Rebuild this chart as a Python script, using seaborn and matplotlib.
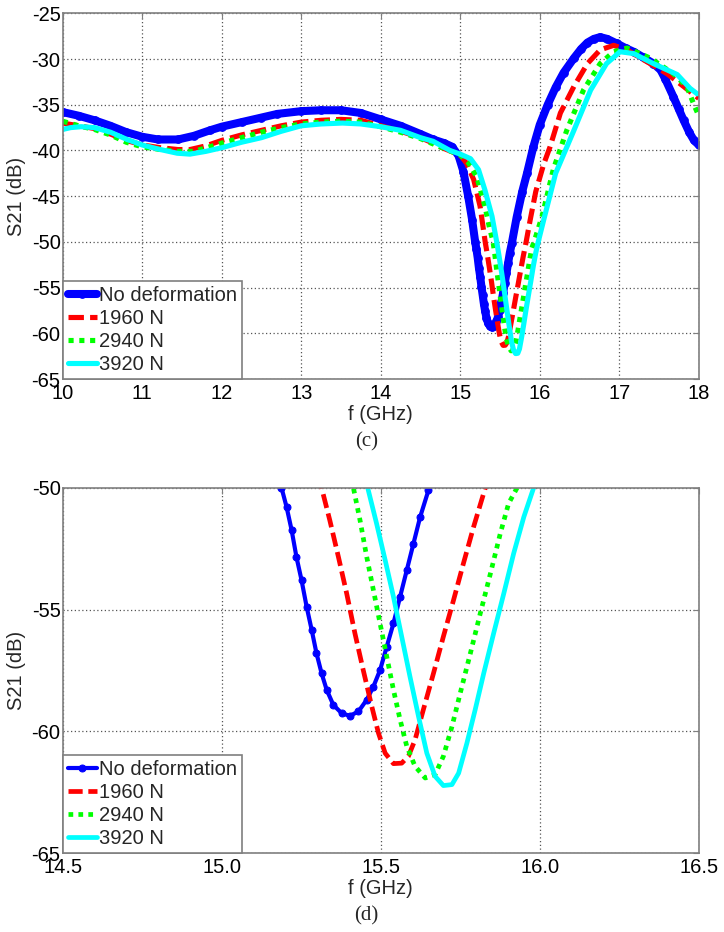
import numpy as np
import pandas as pd
import matplotlib
matplotlib.use("Agg")
import matplotlib.pyplot as plt
import seaborn as sns
from matplotlib.ticker import FormatStrFormatter

# S21 vs frequency (GHz, dB)
f_nodef = [10.0, 10.2, 10.4, 10.6, 10.8, 11.0, 11.2, 11.45, 11.65, 11.85, 12.0, 12.25,
           12.5, 12.7, 13.0, 13.25, 13.5, 13.75, 14.0, 14.25, 14.5, 14.66, 14.8, 14.9,
           14.98, 15.04, 15.1, 15.15, 15.188, 15.204, 15.22, 15.235, 15.251, 15.267,
           15.283, 15.298, 15.314, 15.33, 15.351, 15.377, 15.403, 15.43, 15.456, 15.477,
           15.498, 15.519, 15.54, 15.561, 15.582, 15.603, 15.624, 15.65, 15.71, 15.78,
           15.84, 15.92, 16.0, 16.1, 16.2, 16.3, 16.43, 16.52, 16.6, 16.68, 16.76, 16.85,
           16.97, 17.08, 17.18, 17.3, 17.43, 17.52, 17.58, 17.68, 17.75, 17.81, 17.88,
           17.94, 18.0]
s21_nodef = [-35.8, -36.2, -36.7, -37.3, -38.0, -38.5, -38.8, -38.8, -38.4, -37.8, -37.4, -36.9,
             -36.4, -36.0, -35.7, -35.6, -35.6, -35.9, -36.6, -37.3, -38.2, -38.8, -39.2, -39.6,
             -40.6, -42.3, -45.0, -47.6, -50.0, -50.79, -51.75, -52.84, -53.79, -54.88,
             -55.84, -56.79, -57.61, -58.29, -58.91, -59.25, -59.36, -59.18, -58.7, -58.16,
             -57.48, -56.52, -55.57, -54.47, -53.38, -52.29, -51.2, -50.11, -47.3, -44.5,
             -42.5, -39.6, -37.2, -35.0, -33.1, -31.5, -29.9, -28.9, -28.2, -27.8, -27.6, -27.8,
             -28.3, -28.8, -29.2, -29.8, -30.5, -31.2, -32.2, -34.1, -35.5, -36.7, -38.0,
             -38.9, -39.4]

f_1960 = [10.0, 10.2, 10.4, 10.6, 10.8, 11.0, 11.23, 11.45, 11.6, 11.8, 12.0, 12.25, 12.5,
          12.75, 13.0, 13.25, 13.5, 13.75, 14.0, 14.25, 14.5, 14.66, 14.8, 15.0, 15.08,
          15.17, 15.25, 15.314, 15.34, 15.367, 15.393, 15.419, 15.445, 15.472, 15.493,
          15.514, 15.54, 15.566, 15.587, 15.608, 15.634, 15.666, 15.697, 15.729, 15.76,
          15.792, 15.829, 15.88, 15.95, 16.05, 16.13, 16.26, 16.43, 16.6, 16.76, 16.93,
          17.1, 17.25, 17.39, 17.6, 17.81, 17.94, 18.0]
s21_1960 = [-37.0, -37.3, -37.6, -38.2, -38.9, -39.4, -39.7, -39.9, -39.9, -39.5, -38.9, -38.3,
            -37.8, -37.3, -36.9, -36.7, -36.6, -36.7, -37.3, -37.9, -38.6, -39.2, -39.8, -40.5,
            -41.4, -43.2, -46.1, -50.0, -51.34, -52.84, -54.34, -55.98, -57.48, -58.98, -60.07,
            -60.89, -61.32, -61.3, -61.02, -60.34, -59.11, -57.61, -56.11, -54.61, -53.11,
            -51.61, -50.0, -47.6, -44.5, -41.5, -39.6, -35.9, -33.0, -30.5, -29.0, -28.5,
            -29.0, -29.8, -30.5, -31.6, -33.0, -33.9, -34.3]

f_2940 = [10.0, 10.2, 10.4, 10.6, 10.8, 11.0, 11.23, 11.45, 11.65, 11.85, 12.0, 12.25, 12.5,
          12.75, 13.0, 13.25, 13.5, 13.75, 14.0, 14.25, 14.5, 14.8, 15.0, 15.1, 15.21, 15.31,
          15.37, 15.414, 15.435, 15.456, 15.477, 15.498, 15.519, 15.54, 15.561, 15.582,
          15.608, 15.64, 15.671, 15.697, 15.724, 15.75, 15.782, 15.813, 15.845, 15.876,
          15.902, 15.929, 16.03, 16.17, 16.34, 16.55, 16.76, 16.93, 17.1, 17.39, 17.68,
          17.85, 17.94, 18.0]
s21_2940 = [-36.8, -37.3, -37.7, -38.3, -39.1, -39.6, -39.9, -40.1, -40.1, -39.6, -39.2, -38.6,
            -38.0, -37.5, -37.1, -36.9, -36.8, -36.9, -37.4, -38.0, -38.7, -39.8, -40.5, -41.3,
            -42.9, -46.1, -48.5, -50.0, -51.34, -52.84, -54.2, -55.57, -56.93, -58.29, -59.52,
            -60.61, -61.43, -61.91, -61.77, -61.02, -59.8, -58.43, -56.79, -55.16, -53.52,
            -51.88, -50.65, -50.0, -47.2, -42.1, -37.8, -33.4, -30.5, -29.2, -28.8, -29.9,
            -31.6, -33.0, -35.0, -36.2]

f_3920 = [10.0, 10.1, 10.23, 10.4, 10.6, 10.81, 11.0, 11.23, 11.44, 11.6, 11.8, 12.0, 12.25,
          12.5, 12.75, 13.0, 13.25, 13.52, 13.75, 14.0, 14.25, 14.5, 14.66, 14.87, 15.0,
          15.13, 15.23, 15.31, 15.4, 15.459, 15.487, 15.514, 15.54, 15.566, 15.592, 15.619,
          15.645, 15.671, 15.697, 15.724, 15.745, 15.771, 15.797, 15.824, 15.855, 15.887,
          15.918, 15.95, 15.981, 16.05, 16.2, 16.43, 16.64, 16.84, 17.01, 17.18, 17.43,
          17.73, 17.89, 17.98]
s21_3920 = [-37.7, -37.5, -37.4, -37.5, -38.0, -38.8, -39.4, -39.9, -40.3, -40.4, -40.1, -39.7,
            -39.1, -38.6, -37.9, -37.3, -37.1, -37.0, -37.1, -37.4, -37.8, -38.6, -39.0, -40.0,
            -40.4, -40.9, -42.1, -44.3, -47.2, -50.0, -51.47, -52.97, -54.47, -56.11, -57.75,
            -59.39, -60.89, -61.84, -62.22, -62.18, -61.71, -60.48, -59.11, -57.61, -55.98,
            -54.34, -52.7, -51.2, -50.0, -47.6, -42.5, -37.8, -33.4, -30.5, -29.2, -29.4,
            -30.5, -31.7, -33.2, -33.8]

labels = ["No deformation", "1960 N", "2940 N", "3920 N"]

# panel settings
c_xlim, c_ylim = (10, 18), (-65, -25)
c_xticks = [10, 11, 12, 13, 14, 15, 16, 17, 18]
c_yticks = [-65, -60, -55, -50, -45, -40, -35, -30, -25]
d_xlim, d_ylim = (14.5, 16.5), (-65, -50)
d_xticks = [14.5, 15.0, 15.5, 16.0, 16.5]
d_yticks = [-65, -60, -55, -50]

sns.set_style("white")
plt.rcParams["font.family"] = ["Liberation Sans", "DejaVu Sans"]
plt.rcParams["axes.unicode_minus"] = False

series = [
    (f_nodef, s21_nodef, "#0000ff", "-"),
    (f_1960, s21_1960, "#ff0000", (0, (3, 1.2))),
    (f_2940, s21_2940, "#00ff00", (0, (1, 1.1))),
    (f_3920, s21_3920, "#00ffff", "-"),
]

GRAY = "#7f7f7f"
FS = 14.5


def draw_panel(ax, thick):
    for (f, s, col, ls), lab in zip(series, labels):
        df = pd.DataFrame({"f": f, "s21": s})
        if lab == "No deformation":
            sns.lineplot(data=df, x="f", y="s21", ax=ax, color=col, linestyle=ls,
                         lw=5.8 if thick else 3.0, marker="o", ms=5.5 if thick else 5.0,
                         mec=col, label=lab, sort=False, estimator=None)
        else:
            sns.lineplot(data=df, x="f", y="s21", ax=ax, color=col, linestyle=ls,
                         lw=3.7 if thick else 3.4, label=lab, sort=False, estimator=None)

    ax.grid(True, linestyle=(0, (1, 2)), color="#555555", lw=0.9)
    for sp in ax.spines.values():
        sp.set_color(GRAY)
        sp.set_linewidth(1.2)
    ax.tick_params(direction="in", top=True, right=True, length=4, color=GRAY,
                   labelsize=FS, labelcolor="black")
    ax.tick_params(axis="y", pad=1.5)
    ax.tick_params(axis="x", pad=3.5)

    ax.set_xlabel("f (GHz)", fontsize=FS)
    ax.set_ylabel("S21 (dB)", fontsize=FS)
    ax.xaxis.label.set_va("center")
    ax.yaxis.label.set_va("center")
    ax.yaxis.set_label_coords(-0.073, 0.5)

    leg = ax.legend(loc="lower left", bbox_to_anchor=(0, 0), borderaxespad=0,
                    fontsize=FS, handlelength=1.45, handletextpad=0.12,
                    labelspacing=0.2, borderpad=0.25, fancybox=False,
                    edgecolor=GRAY, framealpha=1, numpoints=1)
    leg.get_frame().set_linewidth(1.2)


fig = plt.figure(figsize=(7.24, 9.32), dpi=100, facecolor="white")

# (c) full band
ax1 = fig.add_axes([0.0866, 0.5933, 0.8785, 0.3924])
draw_panel(ax1, thick=True)
ax1.set_xlim(*c_xlim)
ax1.set_ylim(*c_ylim)
ax1.set_xticks(c_xticks)
ax1.set_yticks(c_yticks)
ax1.xaxis.set_label_coords(0.5, -0.098)

# (d) zoom on the resonance
ax2 = fig.add_axes([0.0866, 0.0844, 0.8785, 0.3923])
draw_panel(ax2, thick=False)
ax2.set_xlim(*d_xlim)
ax2.set_ylim(*d_ylim)
ax2.set_xticks(d_xticks)
ax2.set_yticks(d_yticks)
ax2.xaxis.set_major_formatter(FormatStrFormatter("%.1f"))
ax2.xaxis.set_label_coords(0.5, -0.096)

fig.text(0.506, 0.526, "(c)", ha="center", va="center", fontsize=15,
         family=["Liberation Serif", "DejaVu Serif"])
fig.text(0.506, 0.0175, "(d)", ha="center", va="center", fontsize=15,
         family=["Liberation Serif", "DejaVu Serif"])

fig.savefig("out.png", dpi=100, facecolor="white")
